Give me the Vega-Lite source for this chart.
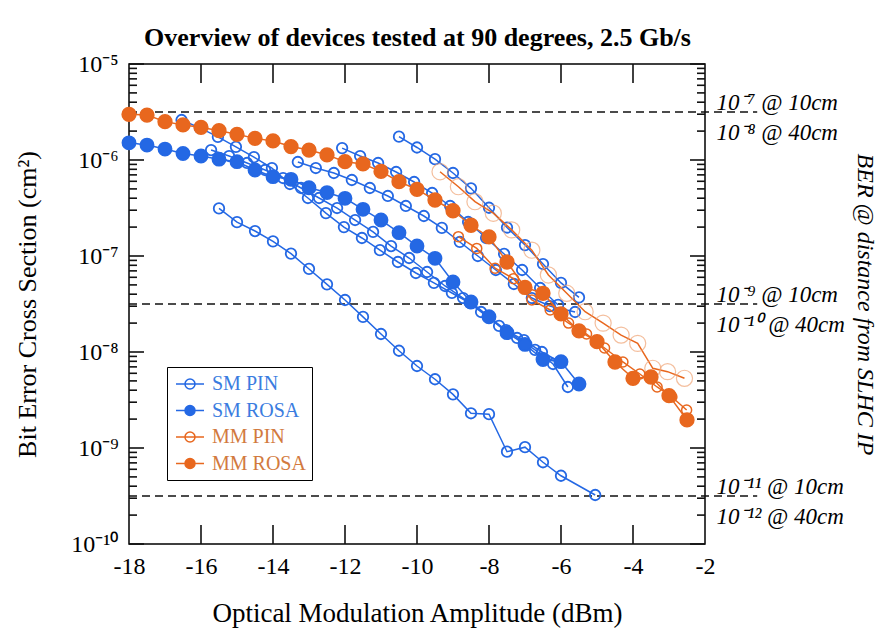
{
 "$schema": "https://vega.github.io/schema/vega-lite/v6.json",
 "width": 576, "height": 480,
 "autosize": {"type": "none"},
 "padding": {"left": 129, "top": 64, "right": 179, "bottom": 91},
 "background": "white",
 "config": {
  "view": {"stroke": "black", "strokeWidth": 1.5},
  "axis": {"domain": false, "ticks": false, "grid": false, "labelFont": "Liberation Serif", "titleFont": "Liberation Serif", "labelColor": "black", "titleColor": "black", "labelFontSize": 24, "titleFontSize": 26, "titleFontWeight": "normal", "labelOverlap": false, "labelFlush": false, "labelBound": false}
 },
 "datasets": {
  "refs": [{"x1":-18,"x2":-0.55,"y":3.1623e-6},{"x1":-18,"x2":-0.55,"y":3.1623e-8},{"x1":-18,"x2":-0.55,"y":3.1623e-10}],
  "yticks": [
   {"c":-17.7917,"k":"major","v":1e-10},{"c":-17.7917,"k":"major","v":1e-9},{"c":-17.7917,"k":"major","v":1e-8},{"c":-17.7917,"k":"major","v":1e-7},{"c":-17.7917,"k":"major","v":1e-6},{"c":-17.7917,"k":"major","v":1e-5},
   {"c":-2.2083,"k":"major","v":1e-10},{"c":-2.2083,"k":"major","v":1e-9},{"c":-2.2083,"k":"major","v":1e-8},{"c":-2.2083,"k":"major","v":1e-7},{"c":-2.2083,"k":"major","v":1e-6},{"c":-2.2083,"k":"major","v":1e-5},
   {"c":-17.8889,"k":"minor","v":2e-10},{"c":-17.8889,"k":"minor","v":3e-10},{"c":-17.8889,"k":"minor","v":4e-10},{"c":-17.8889,"k":"minor","v":5e-10},{"c":-17.8889,"k":"minor","v":6e-10},{"c":-17.8889,"k":"minor","v":7e-10},{"c":-17.8889,"k":"minor","v":8e-10},{"c":-17.8889,"k":"minor","v":9e-10},
   {"c":-17.8889,"k":"minor","v":2e-9},{"c":-17.8889,"k":"minor","v":3e-9},{"c":-17.8889,"k":"minor","v":4e-9},{"c":-17.8889,"k":"minor","v":5e-9},{"c":-17.8889,"k":"minor","v":6e-9},{"c":-17.8889,"k":"minor","v":7e-9},{"c":-17.8889,"k":"minor","v":8e-9},{"c":-17.8889,"k":"minor","v":9e-9},
   {"c":-17.8889,"k":"minor","v":2e-8},{"c":-17.8889,"k":"minor","v":3e-8},{"c":-17.8889,"k":"minor","v":4e-8},{"c":-17.8889,"k":"minor","v":5e-8},{"c":-17.8889,"k":"minor","v":6e-8},{"c":-17.8889,"k":"minor","v":7e-8},{"c":-17.8889,"k":"minor","v":8e-8},{"c":-17.8889,"k":"minor","v":9e-8},
   {"c":-17.8889,"k":"minor","v":2e-7},{"c":-17.8889,"k":"minor","v":3e-7},{"c":-17.8889,"k":"minor","v":4e-7},{"c":-17.8889,"k":"minor","v":5e-7},{"c":-17.8889,"k":"minor","v":6e-7},{"c":-17.8889,"k":"minor","v":7e-7},{"c":-17.8889,"k":"minor","v":8e-7},{"c":-17.8889,"k":"minor","v":9e-7},
   {"c":-17.8889,"k":"minor","v":2e-6},{"c":-17.8889,"k":"minor","v":3e-6},{"c":-17.8889,"k":"minor","v":4e-6},{"c":-17.8889,"k":"minor","v":5e-6},{"c":-17.8889,"k":"minor","v":6e-6},{"c":-17.8889,"k":"minor","v":7e-6},{"c":-17.8889,"k":"minor","v":8e-6},{"c":-17.8889,"k":"minor","v":9e-6},
   {"c":-2.1111,"k":"minor","v":2e-10},{"c":-2.1111,"k":"minor","v":3e-10},{"c":-2.1111,"k":"minor","v":4e-10},{"c":-2.1111,"k":"minor","v":5e-10},{"c":-2.1111,"k":"minor","v":6e-10},{"c":-2.1111,"k":"minor","v":7e-10},{"c":-2.1111,"k":"minor","v":8e-10},{"c":-2.1111,"k":"minor","v":9e-10},
   {"c":-2.1111,"k":"minor","v":2e-9},{"c":-2.1111,"k":"minor","v":3e-9},{"c":-2.1111,"k":"minor","v":4e-9},{"c":-2.1111,"k":"minor","v":5e-9},{"c":-2.1111,"k":"minor","v":6e-9},{"c":-2.1111,"k":"minor","v":7e-9},{"c":-2.1111,"k":"minor","v":8e-9},{"c":-2.1111,"k":"minor","v":9e-9},
   {"c":-2.1111,"k":"minor","v":2e-8},{"c":-2.1111,"k":"minor","v":3e-8},{"c":-2.1111,"k":"minor","v":4e-8},{"c":-2.1111,"k":"minor","v":5e-8},{"c":-2.1111,"k":"minor","v":6e-8},{"c":-2.1111,"k":"minor","v":7e-8},{"c":-2.1111,"k":"minor","v":8e-8},{"c":-2.1111,"k":"minor","v":9e-8},
   {"c":-2.1111,"k":"minor","v":2e-7},{"c":-2.1111,"k":"minor","v":3e-7},{"c":-2.1111,"k":"minor","v":4e-7},{"c":-2.1111,"k":"minor","v":5e-7},{"c":-2.1111,"k":"minor","v":6e-7},{"c":-2.1111,"k":"minor","v":7e-7},{"c":-2.1111,"k":"minor","v":8e-7},{"c":-2.1111,"k":"minor","v":9e-7},
   {"c":-2.1111,"k":"minor","v":2e-6},{"c":-2.1111,"k":"minor","v":3e-6},{"c":-2.1111,"k":"minor","v":4e-6},{"c":-2.1111,"k":"minor","v":5e-6},{"c":-2.1111,"k":"minor","v":6e-6},{"c":-2.1111,"k":"minor","v":7e-6},{"c":-2.1111,"k":"minor","v":8e-6},{"c":-2.1111,"k":"minor","v":9e-6}
  ],
  "xticks": [
   {"v":-16,"c":1.256e-10},{"v":-14,"c":1.256e-10},{"v":-12,"c":1.256e-10},{"v":-10,"c":1.256e-10},{"v":-8,"c":1.256e-10},{"v":-6,"c":1.256e-10},{"v":-4,"c":1.256e-10},
   {"v":-16,"c":7.96e-6},{"v":-14,"c":7.96e-6},{"v":-12,"c":7.96e-6},{"v":-10,"c":7.96e-6},{"v":-8,"c":7.96e-6},{"v":-6,"c":7.96e-6},{"v":-4,"c":7.96e-6}
  ],
  "series": [
  {"id":"SP1","type":"SM PIN","x":-15.5,"y":3.13e-7},{"id":"SP1","type":"SM PIN","x":-15,"y":2.25e-7},{"id":"SP1","type":"SM PIN","x":-14.5,"y":1.82e-7},{"id":"SP1","type":"SM PIN","x":-14,"y":1.42e-7},{"id":"SP1","type":"SM PIN","x":-13.5,"y":1.06e-7},{"id":"SP1","type":"SM PIN","x":-13,"y":7.33e-8},{"id":"SP1","type":"SM PIN","x":-12.5,"y":5.07e-8},{"id":"SP1","type":"SM PIN","x":-12,"y":3.48e-8},{"id":"SP1","type":"SM PIN","x":-11.5,"y":2.32e-8},{"id":"SP1","type":"SM PIN","x":-11,"y":1.54e-8},{"id":"SP1","type":"SM PIN","x":-10.5,"y":1.03e-8},{"id":"SP1","type":"SM PIN","x":-10,"y":7.15e-9},{"id":"SP1","type":"SM PIN","x":-9.5,"y":5.2e-9},{"id":"SP1","type":"SM PIN","x":-9,"y":3.62e-9},{"id":"SP1","type":"SM PIN","x":-8.5,"y":2.3e-9},{"id":"SP1","type":"SM PIN","x":-8,"y":2.25e-9},{"id":"SP1","type":"SM PIN","x":-7.5,"y":9.15e-10},{"id":"SP1","type":"SM PIN","x":-7,"y":1.02e-9},{"id":"SP1","type":"SM PIN","x":-6.5,"y":7.1e-10},{"id":"SP1","type":"SM PIN","x":-6,"y":5.14e-10},{"id":"SP1","type":"SM PIN","x":-5.05,"y":3.24e-10},
  {"id":"SP2","type":"SM PIN","x":-10.5,"y":1.75e-6},{"id":"SP2","type":"SM PIN","x":-10,"y":1.35e-6},{"id":"SP2","type":"SM PIN","x":-9.5,"y":1.02e-6},{"id":"SP2","type":"SM PIN","x":-9,"y":7.32e-7},{"id":"SP2","type":"SM PIN","x":-8.5,"y":5.07e-7},{"id":"SP2","type":"SM PIN","x":-8,"y":3.18e-7},{"id":"SP2","type":"SM PIN","x":-7.5,"y":1.98e-7},{"id":"SP2","type":"SM PIN","x":-7,"y":1.3e-7},{"id":"SP2","type":"SM PIN","x":-6.5,"y":8.25e-8},{"id":"SP2","type":"SM PIN","x":-6,"y":5.24e-8},{"id":"SP2","type":"SM PIN","x":-5.5,"y":3.7e-8},
  {"id":"SP3","type":"SM PIN","x":-16.54,"y":2.61e-6},{"id":"SP3","type":"SM PIN","x":-16.03,"y":2.16e-6},{"id":"SP3","type":"SM PIN","x":-15.53,"y":1.74e-6},{"id":"SP3","type":"SM PIN","x":-15.03,"y":1.37e-6},{"id":"SP3","type":"SM PIN","x":-14.53,"y":1.07e-6},{"id":"SP3","type":"SM PIN","x":-14.03,"y":8.25e-7},{"id":"SP3","type":"SM PIN","x":-13.53,"y":5.62e-7},{"id":"SP3","type":"SM PIN","x":-13.03,"y":4.02e-7},{"id":"SP3","type":"SM PIN","x":-12.53,"y":2.8e-7},{"id":"SP3","type":"SM PIN","x":-12.03,"y":2.0e-7},{"id":"SP3","type":"SM PIN","x":-11.53,"y":1.54e-7},{"id":"SP3","type":"SM PIN","x":-11.03,"y":1.15e-7},{"id":"SP3","type":"SM PIN","x":-10.53,"y":8.66e-8},{"id":"SP3","type":"SM PIN","x":-10.03,"y":6.65e-8},{"id":"SP3","type":"SM PIN","x":-9.53,"y":5.24e-8},{"id":"SP3","type":"SM PIN","x":-9.03,"y":4.12e-8},{"id":"SP3","type":"SM PIN","x":-8.53,"y":3.24e-8},{"id":"SP3","type":"SM PIN","x":-8.03,"y":2.37e-8},{"id":"SP3","type":"SM PIN","x":-7.53,"y":1.69e-8},{"id":"SP3","type":"SM PIN","x":-7.03,"y":1.33e-8},{"id":"SP3","type":"SM PIN","x":-6.53,"y":1.0e-8},{"id":"SP3","type":"SM PIN","x":-6.03,"y":7.87e-9},
  {"id":"SP4","type":"SM PIN","x":-15.72,"y":1.27e-6},{"id":"SP4","type":"SM PIN","x":-15.22,"y":1.1e-6},{"id":"SP4","type":"SM PIN","x":-14.72,"y":9.31e-7},{"id":"SP4","type":"SM PIN","x":-14.22,"y":7.87e-7},{"id":"SP4","type":"SM PIN","x":-13.72,"y":6.49e-7},{"id":"SP4","type":"SM PIN","x":-13.22,"y":5.11e-7},{"id":"SP4","type":"SM PIN","x":-12.72,"y":4.02e-7},{"id":"SP4","type":"SM PIN","x":-12.22,"y":3.16e-7},{"id":"SP4","type":"SM PIN","x":-11.72,"y":2.37e-7},{"id":"SP4","type":"SM PIN","x":-11.22,"y":1.78e-7},{"id":"SP4","type":"SM PIN","x":-10.72,"y":1.27e-7},{"id":"SP4","type":"SM PIN","x":-10.22,"y":9.53e-8},{"id":"SP4","type":"SM PIN","x":-9.72,"y":6.81e-8},{"id":"SP4","type":"SM PIN","x":-9.22,"y":4.87e-8},{"id":"SP4","type":"SM PIN","x":-8.72,"y":3.65e-8},{"id":"SP4","type":"SM PIN","x":-8.22,"y":2.61e-8},{"id":"SP4","type":"SM PIN","x":-7.72,"y":1.87e-8},{"id":"SP4","type":"SM PIN","x":-7.22,"y":1.4e-8},{"id":"SP4","type":"SM PIN","x":-6.72,"y":1.05e-8},{"id":"SP4","type":"SM PIN","x":-6.22,"y":7.5e-9},{"id":"SP4","type":"SM PIN","x":-5.81,"y":4.32e-9},
  {"id":"SP5","type":"SM PIN","x":-13.31,"y":9.53e-7},{"id":"SP5","type":"SM PIN","x":-12.81,"y":8.25e-7},{"id":"SP5","type":"SM PIN","x":-12.31,"y":7.32e-7},{"id":"SP5","type":"SM PIN","x":-11.81,"y":6.19e-7},{"id":"SP5","type":"SM PIN","x":-11.31,"y":5.11e-7},{"id":"SP5","type":"SM PIN","x":-10.81,"y":4.22e-7},{"id":"SP5","type":"SM PIN","x":-10.31,"y":3.32e-7},{"id":"SP5","type":"SM PIN","x":-9.81,"y":2.61e-7},{"id":"SP5","type":"SM PIN","x":-9.31,"y":1.96e-7},{"id":"SP5","type":"SM PIN","x":-8.81,"y":1.4e-7},{"id":"SP5","type":"SM PIN","x":-8.31,"y":1.0e-7},{"id":"SP5","type":"SM PIN","x":-7.81,"y":7.15e-8},{"id":"SP5","type":"SM PIN","x":-7.31,"y":5.11e-8},{"id":"SP5","type":"SM PIN","x":-6.81,"y":3.65e-8},{"id":"SP5","type":"SM PIN","x":-6.31,"y":3.01e-8},{"id":"SP5","type":"SM PIN","x":-5.61,"y":2.61e-8},
  {"id":"SP6","type":"SM PIN","x":-12.08,"y":1.33e-6},{"id":"SP6","type":"SM PIN","x":-11.58,"y":1.1e-6},{"id":"SP6","type":"SM PIN","x":-11.08,"y":9.31e-7},{"id":"SP6","type":"SM PIN","x":-10.58,"y":7.5e-7},{"id":"SP6","type":"SM PIN","x":-10.08,"y":5.9e-7},{"id":"SP6","type":"SM PIN","x":-9.58,"y":4.53e-7},{"id":"SP6","type":"SM PIN","x":-9.08,"y":3.32e-7},{"id":"SP6","type":"SM PIN","x":-8.58,"y":2.26e-7},{"id":"SP6","type":"SM PIN","x":-8.08,"y":1.54e-7},{"id":"SP6","type":"SM PIN","x":-7.58,"y":1.05e-7},{"id":"SP6","type":"SM PIN","x":-7.08,"y":7.15e-8},{"id":"SP6","type":"SM PIN","x":-6.58,"y":4.64e-8},{"id":"SP6","type":"SM PIN","x":-6.08,"y":3.09e-8},
  {"id":"SR1","type":"SM ROSA","x":-18,"y":1.51e-6},{"id":"SR1","type":"SM ROSA","x":-17.5,"y":1.43e-6},{"id":"SR1","type":"SM ROSA","x":-17,"y":1.3e-6},{"id":"SR1","type":"SM ROSA","x":-16.5,"y":1.17e-6},{"id":"SR1","type":"SM ROSA","x":-16,"y":1.1e-6},{"id":"SR1","type":"SM ROSA","x":-15.5,"y":1.02e-6},{"id":"SR1","type":"SM ROSA","x":-15,"y":9.6e-7},{"id":"SR1","type":"SM ROSA","x":-14.5,"y":7.87e-7},{"id":"SR1","type":"SM ROSA","x":-14,"y":6.7e-7},{"id":"SR1","type":"SM ROSA","x":-13.5,"y":6.29e-7},{"id":"SR1","type":"SM ROSA","x":-13,"y":5.14e-7},{"id":"SR1","type":"SM ROSA","x":-12.5,"y":4.58e-7},{"id":"SR1","type":"SM ROSA","x":-12,"y":3.99e-7},{"id":"SR1","type":"SM ROSA","x":-11.5,"y":3.06e-7},{"id":"SR1","type":"SM ROSA","x":-11,"y":2.37e-7},{"id":"SR1","type":"SM ROSA","x":-10.5,"y":1.75e-7},{"id":"SR1","type":"SM ROSA","x":-10,"y":1.27e-7},{"id":"SR1","type":"SM ROSA","x":-9.5,"y":9.46e-8},{"id":"SR1","type":"SM ROSA","x":-9,"y":5.36e-8},{"id":"SR1","type":"SM ROSA","x":-8.5,"y":3.32e-8},{"id":"SR1","type":"SM ROSA","x":-8,"y":2.33e-8},{"id":"SR1","type":"SM ROSA","x":-7.5,"y":1.59e-8},{"id":"SR1","type":"SM ROSA","x":-7,"y":1.2e-8},{"id":"SR1","type":"SM ROSA","x":-6.5,"y":8.35e-9},{"id":"SR1","type":"SM ROSA","x":-6,"y":7.93e-9},{"id":"SR1","type":"SM ROSA","x":-5.5,"y":4.64e-9},
  {"id":"MP2","type":"MM PIN","x":-8.85,"y":1.59e-7},{"id":"MP2","type":"MM PIN","x":-8.34,"y":1.2e-7},{"id":"MP2","type":"MM PIN","x":-7.83,"y":7.45e-8},{"id":"MP2","type":"MM PIN","x":-7.32,"y":5.81e-8},{"id":"MP2","type":"MM PIN","x":-6.81,"y":3.48e-8},{"id":"MP2","type":"MM PIN","x":-6.3,"y":2.74e-8},{"id":"MP2","type":"MM PIN","x":-5.79,"y":2.0e-8},{"id":"MP2","type":"MM PIN","x":-5.29,"y":1.54e-8},{"id":"MP2","type":"MM PIN","x":-4.79,"y":1.1e-8},{"id":"MP2","type":"MM PIN","x":-4.28,"y":7.87e-9},{"id":"MP2","type":"MM PIN","x":-3.81,"y":5.9e-9},{"id":"MP2","type":"MM PIN","x":-3.33,"y":4.32e-9},{"id":"MP2","type":"MM PIN","x":-2.92,"y":3.4e-9},{"id":"MP2","type":"MM PIN","x":-2.51,"y":2.49e-9},
  {"id":"MR1","type":"MM ROSA","x":-18,"y":2.99e-6},{"id":"MR1","type":"MM ROSA","x":-17.5,"y":2.94e-6},{"id":"MR1","type":"MM ROSA","x":-17,"y":2.51e-6},{"id":"MR1","type":"MM ROSA","x":-16.5,"y":2.32e-6},{"id":"MR1","type":"MM ROSA","x":-16,"y":2.19e-6},{"id":"MR1","type":"MM ROSA","x":-15.5,"y":2.02e-6},{"id":"MR1","type":"MM ROSA","x":-15,"y":1.85e-6},{"id":"MR1","type":"MM ROSA","x":-14.5,"y":1.68e-6},{"id":"MR1","type":"MM ROSA","x":-14,"y":1.58e-6},{"id":"MR1","type":"MM ROSA","x":-13.5,"y":1.38e-6},{"id":"MR1","type":"MM ROSA","x":-13,"y":1.27e-6},{"id":"MR1","type":"MM ROSA","x":-12.5,"y":1.13e-6},{"id":"MR1","type":"MM ROSA","x":-12,"y":9.6e-7},{"id":"MR1","type":"MM ROSA","x":-11.5,"y":9.1e-7},{"id":"MR1","type":"MM ROSA","x":-11,"y":7.6e-7},{"id":"MR1","type":"MM ROSA","x":-10.5,"y":5.94e-7},{"id":"MR1","type":"MM ROSA","x":-10,"y":4.95e-7},{"id":"MR1","type":"MM ROSA","x":-9.5,"y":3.83e-7},{"id":"MR1","type":"MM ROSA","x":-9,"y":2.96e-7},{"id":"MR1","type":"MM ROSA","x":-8.5,"y":2.09e-7},{"id":"MR1","type":"MM ROSA","x":-8,"y":1.58e-7},{"id":"MR1","type":"MM ROSA","x":-7.5,"y":8.66e-8},{"id":"MR1","type":"MM ROSA","x":-7,"y":4.7e-8},{"id":"MR1","type":"MM ROSA","x":-6.5,"y":4.09e-8},{"id":"MR1","type":"MM ROSA","x":-6,"y":2.5e-8},{"id":"MR1","type":"MM ROSA","x":-5.5,"y":1.66e-8},{"id":"MR1","type":"MM ROSA","x":-5,"y":1.28e-8},{"id":"MR1","type":"MM ROSA","x":-4.5,"y":7.87e-9},{"id":"MR1","type":"MM ROSA","x":-4,"y":5.32e-9},{"id":"MR1","type":"MM ROSA","x":-3.5,"y":5.49e-9},{"id":"MR1","type":"MM ROSA","x":-3,"y":3.51e-9},{"id":"MR1","type":"MM ROSA","x":-2.5,"y":1.96e-9},
  {"id":"MP1","type":"MM PIN","x":-9.36,"y":7.55e-7},{"id":"MP1","type":"MM PIN","x":-8.85,"y":5.27e-7},{"id":"MP1","type":"MM PIN","x":-8.39,"y":3.68e-7},{"id":"MP1","type":"MM PIN","x":-7.88,"y":2.79e-7},{"id":"MP1","type":"MM PIN","x":-7.37,"y":1.87e-7},{"id":"MP1","type":"MM PIN","x":-6.81,"y":1.15e-7},{"id":"MP1","type":"MM PIN","x":-6.35,"y":6.34e-8},{"id":"MP1","type":"MM PIN","x":-5.84,"y":4.09e-8},{"id":"MP1","type":"MM PIN","x":-5.33,"y":2.63e-8},{"id":"MP1","type":"MM PIN","x":-4.83,"y":2.0e-8},{"id":"MP1","type":"MM PIN","x":-4.33,"y":1.5e-8},{"id":"MP1","type":"MM PIN","x":-3.87,"y":1.23e-8},{"id":"MP1","type":"MM PIN","x":-3.45,"y":6.76e-9},{"id":"MP1","type":"MM PIN","x":-3.04,"y":6.24e-9},{"id":"MP1","type":"MM PIN","x":-2.57,"y":5.32e-9}
  ]
 },
 "data": {"name": "series"},
 "layer": [
  {
   "data": {"name": "refs"},
   "mark": {"type": "rule", "strokeWidth": 1.6, "color": "#111", "strokeDash": [8, 5]},
   "encoding": {
    "x": {"field": "x1", "type": "quantitative", "scale": {"domain": [-18, -2], "nice": false, "zero": false},
     "axis": {"orient": "bottom", "values": [-18, -16, -14, -12, -10, -8, -6, -4, -2], "labelPadding": 10, "labelExpr": "datum.value + ''", "title": "Optical Modulation Amplitude (dBm)", "titleFontSize": 27, "titlePadding": 22}},
    "x2": {"field": "x2"},
    "y": {"field": "y", "type": "quantitative", "scale": {"type": "log", "domain": [1e-10, 1e-5]},
     "axis": {"orient": "left", "values": [1e-10, 1e-9, 1e-8, 1e-7, 1e-6, 1e-5], "labelPadding": 11,
      "labelExpr": "'10' + ['⁰','⁻¹','⁻²','⁻³','⁻⁴','⁻⁵','⁻⁶','⁻⁷','⁻⁸','⁻⁹','⁻¹⁰'][-round(log(datum.value)/LN10)]",
      "title": "Bit Error Cross Section (cm²)", "titlePadding": 30}}
   }
  },
  {
   "data": {"name": "yticks"},
   "mark": {"type": "tick", "orient": "horizontal", "thickness": 1.6, "color": "#111", "opacity": 1},
   "encoding": {
    "x": {"field": "c", "type": "quantitative", "axis": null},
    "y": {"field": "v", "type": "quantitative", "axis": null},
    "size": {"field": "k", "type": "ordinal", "scale": {"domain": ["major", "minor"], "range": [15, 8]}, "legend": null}
   }
  },
  {
   "data": {"name": "xticks"},
   "mark": {"type": "tick", "orient": "vertical", "thickness": 1.6, "size": 19, "color": "#111", "opacity": 1},
   "encoding": {
    "x": {"field": "v", "type": "quantitative", "axis": null},
    "y": {"field": "c", "type": "quantitative", "axis": null}
   }
  },
  {
   "transform": [{"filter": "indexof(datum.type, 'SM') == 0"}],
   "mark": {"type": "line", "strokeWidth": 1.5},
   "encoding": {
    "x": {"field": "x", "type": "quantitative",
     "axis": {"orient": "top", "values": [-18], "labels": false, "title": "Overview of devices tested at 90 degrees, 2.5 Gb/s", "titleFontWeight": "bold", "titleFontSize": 26, "titleBaseline": "alphabetic", "titlePadding": 19}},
    "y": {"field": "y", "type": "quantitative",
     "axis": {"orient": "right", "values": [3.1623e-10, 3.1623e-8, 3.1623e-6],
      "labelPadding": 11, "labelOffset": -9, "labelAlign": "left", "labelBaseline": "middle", "labelFontSize": 23, "labelFontStyle": "italic", "labelLineHeight": 30,
      "labelExpr": "datum.value == 3.1623e-6 ? ['10⁻⁷ @ 10cm', '10⁻⁸ @ 40cm'] : datum.value == 3.1623e-8 ? ['10⁻⁹ @ 10cm', '10⁻¹⁰ @ 40cm'] : ['10⁻¹¹ @ 10cm', '10⁻¹² @ 40cm']",
      "title": "BER @ distance from SLHC IP", "titleFontStyle": "italic", "titleFontSize": 24, "titlePadding": 8}},
    "stroke": {"field": "type", "type": "nominal", "scale": {"domain": ["SM PIN", "SM ROSA", "MM PIN", "MM ROSA"], "range": ["#2468e4", "#2468e4", "#e8671e", "#e8671e"]},
     "legend": {"orient": "none", "legendX": 38, "legendY": 303, "title": null, "symbolType": "M-1.4,0H1.4M-0.5,0A0.5,0.5 0 1,1 0.5,0A0.5,0.5 0 1,1 -0.5,0Z", "symbolSize": 400, "symbolStrokeWidth": 1.5, "labelFont": "Liberation Serif", "labelFontSize": 20, "strokeColor": "black", "fillColor": "white", "padding": 6, "rowPadding": 5.5, "labelOffset": 11, "symbolOffset": 6, "labelLimit": 300, "encode": {"labels": {"update": {"fill": {"signal": "indexof(datum.label, 'SM') == 0 ? '#3a7ce0' : '#d27a3e'"}}}}}},
    "detail": {"field": "id"}
   }
  },
  {
   "transform": [{"filter": "indexof(datum.type, 'SM') == 0"}],
   "mark": {"type": "point", "strokeWidth": 1.8, "opacity": 1},
   "encoding": {
    "x": {"field": "x", "type": "quantitative", "axis": null},
    "y": {"field": "y", "type": "quantitative", "axis": null},
    "stroke": {"field": "type", "type": "nominal",
     "legend": {"orient": "none", "legendX": 38, "legendY": 303, "title": null, "symbolType": "M-1.4,0H1.4M-0.5,0A0.5,0.5 0 1,1 0.5,0A0.5,0.5 0 1,1 -0.5,0Z", "symbolSize": 400, "symbolStrokeWidth": 1.5, "labelFont": "Liberation Serif", "labelFontSize": 20, "strokeColor": "black", "fillColor": "white", "padding": 6, "rowPadding": 5.5, "labelOffset": 11, "symbolOffset": 6, "labelLimit": 300, "encode": {"labels": {"update": {"fill": {"signal": "indexof(datum.label, 'SM') == 0 ? '#3a7ce0' : '#d27a3e'"}}}}}},
    "fill": {"field": "type", "type": "nominal", "scale": {"domain": ["SM PIN", "SM ROSA", "MM PIN", "MM ROSA"], "range": ["transparent", "#2468e4", "transparent", "#e8671e"]},
     "legend": {"orient": "none", "legendX": 38, "legendY": 303, "title": null, "symbolType": "M-1.4,0H1.4M-0.5,0A0.5,0.5 0 1,1 0.5,0A0.5,0.5 0 1,1 -0.5,0Z", "symbolSize": 400, "symbolStrokeWidth": 1.5, "labelFont": "Liberation Serif", "labelFontSize": 20, "strokeColor": "black", "fillColor": "white", "padding": 6, "rowPadding": 5.5, "labelOffset": 11, "symbolOffset": 6, "labelLimit": 300, "encode": {"labels": {"update": {"fill": {"signal": "indexof(datum.label, 'SM') == 0 ? '#3a7ce0' : '#d27a3e'"}}}}}},
    "size": {"condition": {"test": "datum.type == 'SM ROSA'", "value": 170}, "value": 110}
   }
  },
  {
   "transform": [{"filter": "indexof(datum.type, 'MM') == 0"}],
   "mark": {"type": "line", "strokeWidth": 1.5},
   "encoding": {
    "x": {"field": "x", "type": "quantitative", "axis": null},
    "y": {"field": "y", "type": "quantitative", "axis": null},
    "stroke": {"field": "type", "type": "nominal",
     "legend": {"orient": "none", "legendX": 38, "legendY": 303, "title": null, "symbolType": "M-1.4,0H1.4M-0.5,0A0.5,0.5 0 1,1 0.5,0A0.5,0.5 0 1,1 -0.5,0Z", "symbolSize": 400, "symbolStrokeWidth": 1.5, "labelFont": "Liberation Serif", "labelFontSize": 20, "strokeColor": "black", "fillColor": "white", "padding": 6, "rowPadding": 5.5, "labelOffset": 11, "symbolOffset": 6, "labelLimit": 300, "encode": {"labels": {"update": {"fill": {"signal": "indexof(datum.label, 'SM') == 0 ? '#3a7ce0' : '#d27a3e'"}}}}}},
    "detail": {"field": "id"}
   }
  },
  {
   "transform": [{"filter": "datum.id == 'MP1'"}],
   "mark": {"type": "point", "strokeWidth": 1.2, "stroke": "#f0a475", "size": 260, "fill": "transparent"},
   "encoding": {
    "x": {"field": "x", "type": "quantitative", "axis": null},
    "y": {"field": "y", "type": "quantitative", "axis": null}
   }
  },
  {
   "transform": [{"filter": "indexof(datum.type, 'MM') == 0 && datum.id != 'MP1'"}],
   "mark": {"type": "point", "strokeWidth": 1.5, "opacity": 1},
   "encoding": {
    "x": {"field": "x", "type": "quantitative", "axis": null},
    "y": {"field": "y", "type": "quantitative", "axis": null},
    "stroke": {"field": "type", "type": "nominal",
     "legend": {"orient": "none", "legendX": 38, "legendY": 303, "title": null, "symbolType": "M-1.4,0H1.4M-0.5,0A0.5,0.5 0 1,1 0.5,0A0.5,0.5 0 1,1 -0.5,0Z", "symbolSize": 400, "symbolStrokeWidth": 1.5, "labelFont": "Liberation Serif", "labelFontSize": 20, "strokeColor": "black", "fillColor": "white", "padding": 6, "rowPadding": 5.5, "labelOffset": 11, "symbolOffset": 6, "labelLimit": 300, "encode": {"labels": {"update": {"fill": {"signal": "indexof(datum.label, 'SM') == 0 ? '#3a7ce0' : '#d27a3e'"}}}}}},
    "fill": {"field": "type", "type": "nominal",
     "legend": {"orient": "none", "legendX": 38, "legendY": 303, "title": null, "symbolType": "M-1.4,0H1.4M-0.5,0A0.5,0.5 0 1,1 0.5,0A0.5,0.5 0 1,1 -0.5,0Z", "symbolSize": 400, "symbolStrokeWidth": 1.5, "labelFont": "Liberation Serif", "labelFontSize": 20, "strokeColor": "black", "fillColor": "white", "padding": 6, "rowPadding": 5.5, "labelOffset": 11, "symbolOffset": 6, "labelLimit": 300, "encode": {"labels": {"update": {"fill": {"signal": "indexof(datum.label, 'SM') == 0 ? '#3a7ce0' : '#d27a3e'"}}}}}},
    "size": {"condition": {"test": "datum.type == 'MM ROSA'", "value": 190}, "value": 100}
   }
  }
 ],
 "resolve": {"axis": {"x": "independent", "y": "independent"}}
}
